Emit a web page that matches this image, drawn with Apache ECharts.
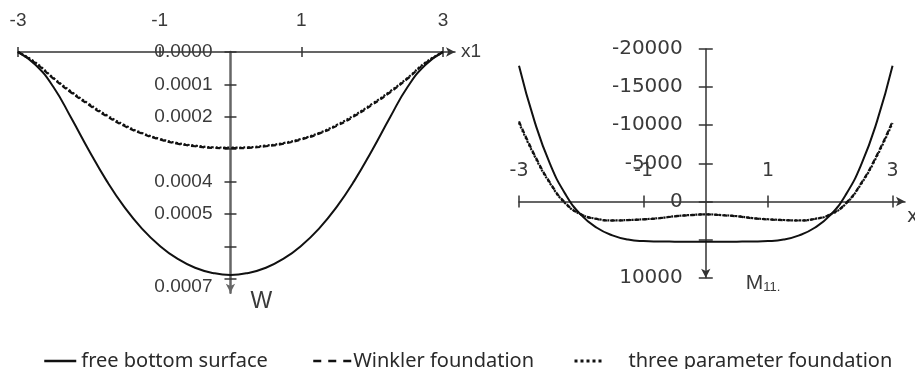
<!DOCTYPE html>
<html>
<head>
<meta charset="utf-8">
<script src="https://cdn.jsdelivr.net/npm/echarts@6/dist/echarts.min.js"></script>
<style>html,body{margin:0;padding:0;background:#fff}#c{width:915px;height:369px}</style>
</head>
<body>
<div id="c"></div>
<script>
// ---- data ----
const xs = [-3,-2.75,-2.5,-2.25,-2,-1.75,-1.5,-1.25,-1,-0.75,-0.5,-0.25,0,0.25,0.5,0.75,1,1.25,1.5,1.75,2,2.25,2.5,2.75,3];
// deflection W (left panel)
const wFree   = [0,0.00004,0.000108,0.000203,0.000303,0.000397,0.000478,0.000545,0.000598,0.000638,0.000666,0.000682,0.000688,0.000682,0.000666,0.000638,0.000598,0.000545,0.000478,0.000397,0.000303,0.000203,0.000108,0.00004,0];
const wWinkler= [0,0.000035,0.000082,0.000125,0.000163,0.000198,0.000228,0.000252,0.00027,0.000283,0.000291,0.000296,0.000297,0.000296,0.000291,0.000283,0.00027,0.000252,0.000228,0.000198,0.000163,0.000125,0.000082,0.000035,0];
const wThree  = [0,0.000033,0.00008,0.000122,0.00016,0.000195,0.000225,0.00025,0.000268,0.000281,0.000289,0.000294,0.000295,0.000294,0.000289,0.000281,0.000268,0.00025,0.000225,0.000195,0.00016,0.000122,0.00008,0.000033,0];
// bending moment M11 (right panel)
const mFree   = [-17800,-10500,-4900,-900,1800,3450,4450,5000,5200,5250,5270,5280,5280,5280,5270,5250,5200,5000,4450,3450,1800,-900,-4900,-10500,-17800];
const mWinkler= [-10500,-6100,-2450,250,1700,2300,2500,2450,2350,2200,1950,1800,1700,1800,1950,2200,2350,2450,2500,2300,1700,250,-2450,-6100,-10500];
const mThree  = [-10300,-5950,-2350,300,1720,2280,2480,2430,2330,2180,1930,1780,1690,1780,1930,2180,2330,2430,2480,2280,1720,300,-2350,-5950,-10300];
// ticks / labels
const xTickVals = [-3,-1,1,3];
const wTickVals = [0,0.0001,0.0002,0.0003,0.0004,0.0005,0.0006,0.0007];
const wLabelVals = [0,0.0001,0.0002,0.0004,0.0005,0.0007];
const mTickVals = [-20000,-15000,-10000,-5000,0,5000,10000];
const mLabelVals = [-20000,-15000,-10000,-5000,0,10000];
const names = ['free bottom surface','Winkler foundation','three parameter foundation'];

// ---- layout ----
const G0 = {left:18, top:52, width:437, height:240.7};
const G1 = {left:519, top:49, width:386, height:228.7};
const X0 = [-3, 3.17], W0 = [0, 0.000743];
const X1 = [-3, 3.2],  M1 = [-20000, 10000];
// offsets so the axes cross at the origin
const y0Off = -(0 - X0[0]) / (X0[1] - X0[0]) * G0.width;
const y1Off = -(0 - X1[0]) / (X1[1] - X1[0]) * G1.width;
const x1Off = -(0 - M1[0]) / (M1[1] - M1[0]) * G1.height;

const pairs = (ys) => xs.map((x,i)=>[x, ys[i]]);
const chart = echarts.init(document.getElementById('c'));
const txt = '#3a3a3a';
const leftFont = 'Liberation Sans';
const rightFont = 'DejaVu Sans';
const tickStyle = {color:'#333', width:1.5};

const styles = [
  {color:'#111', width:2, type:'solid'},
  {color:'#111', width:2.2, type:[5,3]},
  {color:'#111', width:2.2, type:[2,2]}
];
function series(name, idx, data, style){
  return {name, type:'line', xAxisIndex:idx, yAxisIndex:idx, data:pairs(data),
    symbol:'none', smooth:0.5, lineStyle:style, itemStyle:{color:style.color}, z: 3};
}
// tick-only twin axis (gives ticks crossing the axis line)
function tickTwin(base, vals, len){
  return Object.assign({}, base, {
    name:'', axisLine:{show:false}, axisLabel:{show:false}, splitLine:{show:false},
    axisTick:{customValues:vals, length:len, inside:false, lineStyle:tickStyle}
  });
}
const hiddenSym = {color:'rgba(0,0,0,0)', borderWidth:0, opacity:0};
const legTxt = {fontFamily:'Noto Sans', fontSize:20, color:'#2a2a2a'};

const xA0 = {type:'value', gridIndex:0, min:X0[0], max:X0[1], position:'top',
     axisLine:{onZero:false, lineStyle:{color:'#333', width:1.5}, symbol:['none','arrow'], symbolSize:[7,9]},
     axisTick:{customValues:xTickVals, length:5, inside:true, lineStyle:tickStyle},
     axisLabel:{customValues:xTickVals, margin:22, color:txt, fontFamily:leftFont, fontSize:19},
     splitLine:{show:false},
     name:'x1', nameLocation:'end', nameGap:6,
     nameTextStyle:{color:txt, fontFamily:leftFont, fontSize:19, verticalAlign:'middle'}};
const xA1 = {type:'value', gridIndex:1, min:X1[0], max:X1[1], position:'top', offset:x1Off,
     axisLine:{onZero:false, lineStyle:{color:'#333', width:1.5}, symbol:['none','arrow'], symbolSize:[7,9]},
     axisTick:{customValues:xTickVals, length:6, inside:true, lineStyle:tickStyle},
     axisLabel:{customValues:xTickVals, margin:21, color:txt, fontFamily:rightFont, fontSize:19},
     splitLine:{show:false},
     name:'x1', nameLocation:'end', nameGap:2,
     nameTextStyle:{color:txt, fontFamily:rightFont, fontSize:19, verticalAlign:'top', padding:[6,0,0,0]}};
const yA0 = {type:'value', gridIndex:0, min:W0[0], max:W0[1], inverse:true, position:'left', offset:y0Off,
     axisLine:{onZero:false, lineStyle:{color:'#666', width:2.5}, symbol:['arrow','none'], symbolSize:[7,9]},
     axisTick:{customValues:wTickVals, length:6, inside:true, lineStyle:tickStyle},
     axisLabel:{customValues:wLabelVals, margin:18, color:txt, fontFamily:leftFont, fontSize:19,
       formatter:(v)=> Math.abs(v-0.0007)<1e-9 ? '{low|'+v.toFixed(4)+'}' : v.toFixed(4),
       rich:{low:{fontFamily:leftFont, fontSize:19, color:txt, padding:[16,0,0,0]}}},
     splitLine:{show:false},
     name:'W', nameLocation:'end', nameGap:0,
     nameTextStyle:{color:txt, fontFamily:leftFont, fontSize:23, align:'left', verticalAlign:'top', padding:[-3,0,0,20]}};
const yA1 = {type:'value', gridIndex:1, min:M1[0], max:M1[1], inverse:true, position:'left', offset:y1Off,
     axisLine:{onZero:false, lineStyle:{color:'#333', width:1.5}, symbol:['arrow','none'], symbolSize:[7,9]},
     axisTick:{customValues:mTickVals, length:7, inside:true, lineStyle:tickStyle},
     axisLabel:{customValues:mLabelVals, margin:23, color:txt, fontFamily:rightFont, fontSize:20,
       formatter:(v)=> String(v)},
     splitLine:{show:false},
     name:'{m|M}{s|11.}', nameLocation:'end', nameGap:0,
     nameTextStyle:{align:'left', verticalAlign:'middle', padding:[12,0,0,40],
       rich:{m:{fontFamily:leftFont, fontSize:21, color:txt}, s:{fontFamily:leftFont, fontSize:13, color:txt, padding:[8,0,0,0]}}}};

chart.setOption({
  animation:false,
  backgroundColor:'#fff',
  grid:[
    Object.assign({outerBoundsMode:'none', containLabel:false}, G0),
    Object.assign({outerBoundsMode:'none', containLabel:false}, G1)
  ],
  xAxis:[xA0, xA1, tickTwin(xA0, xTickVals, 5), tickTwin(xA1, xTickVals, 6)],
  yAxis:[yA0, yA1, tickTwin(yA0, wTickVals, 6), tickTwin(yA1, mTickVals, 7)],
  legend:[
    {data:[names[0]], left:43, top:351, padding:0, itemWidth:32, itemHeight:14,
     textStyle:legTxt, itemStyle:hiddenSym, lineStyle:{width:2.5}},
    {data:[names[1]], left:312, top:351, padding:0, itemWidth:38, itemHeight:14,
     textStyle:Object.assign({padding:[0,0,0,-3]}, legTxt), itemStyle:hiddenSym,
     lineStyle:{width:2.5, type:[8,7]}},
    {data:[names[2]], left:573, top:351, padding:0, itemWidth:30, itemHeight:14,
     textStyle:Object.assign({padding:[0,0,0,19]}, legTxt), itemStyle:hiddenSym,
     lineStyle:{width:3, type:[3,3]}}
  ],
  series:[
    series(names[0],0,wFree,styles[0]),
    series(names[1],0,wWinkler,styles[1]),
    series(names[2],0,wThree,styles[2]),
    series(names[0],1,mFree,styles[0]),
    series(names[1],1,mWinkler,styles[1]),
    series(names[2],1,mThree,styles[2])
  ]
});
</script>
</body>
</html>
